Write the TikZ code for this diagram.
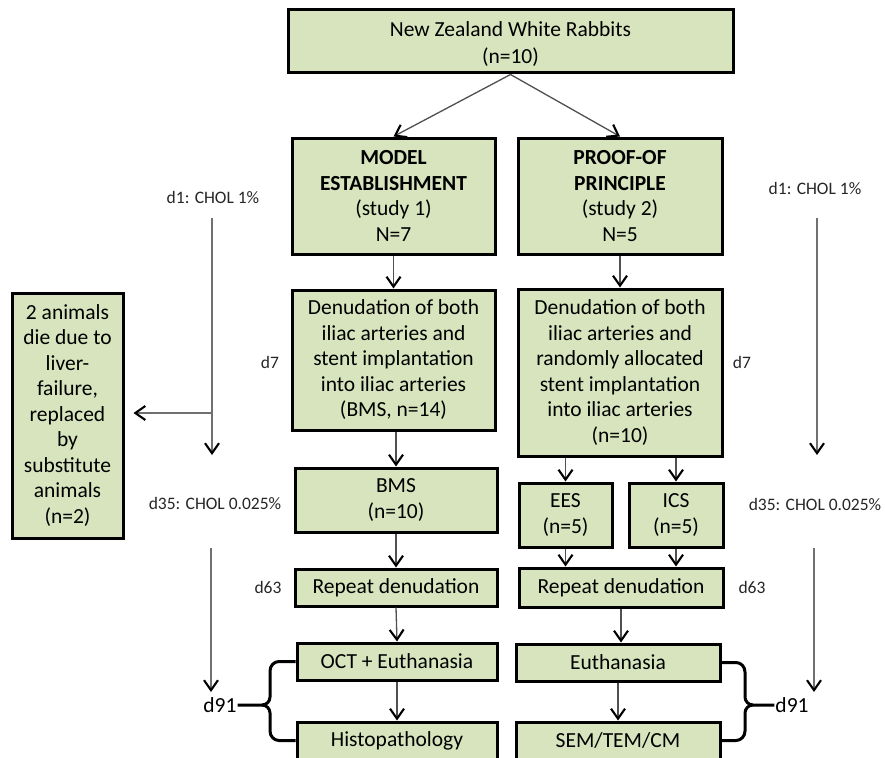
\documentclass[tikz,border=0pt]{standalone}
\usepackage{fontspec}
\setmainfont{Carlito}
\usetikzlibrary{arrows.meta,calc}
\definecolor{boxgreen}{HTML}{D7E4BD}
\definecolor{arrgray}{HTML}{505050}
\definecolor{tlgray}{HTML}{707070}
\begin{document}
\begin{tikzpicture}[x=1pt,y=-1pt,
  box/.style={draw=black, line width=3pt, fill=boxgreen, align=center, inner sep=2pt,
    font=\fontsize{21.5}{25.5}\selectfont},
  sz/.style 2 args={minimum width=#1pt, minimum height=#2pt},
  tip/.style={-{Straight Barb[length=10pt,width=14pt,line width=2.1pt,color=black]}},
  arr/.style={draw=arrgray, line width=1.3pt, tip},
  tl/.style={draw=tlgray, line width=1.3pt, tip},
  lab/.style={inner sep=1pt, text=black!85, font=\fontsize{17.5}{21}\selectfont},
  biglab/.style={inner sep=1pt, font=\fontsize{21.5}{25}\selectfont},
  brace/.style={draw=black, line width=3pt, line join=round}]
\useasboundingbox (0,0) rectangle (885,757);
\fill[white] (0,0) rectangle (885,757);
\begin{scope}
\clip (0,0) rectangle (885,757);
% boxes
\node[box, sz={445}{63}] (top) at (510.5,41.5) {\rule{0pt}{20pt}New Zealand White Rabbits\\[1.5pt](n=10)};
\node[box, sz={203}{116}] (model) at (393.5,196) {\textbf{MODEL}\\\textbf{ESTABLISHMENT}\\(study 1)\\N=7};
\node[box, sz={204}{116}] (proof) at (620,196) {\textbf{PROOF-OF}\\\textbf{PRINCIPLE}\\(study 2)\\N=5};
\node[box, sz={203}{140}] (den1) at (393.5,360) {Denudation of both\\iliac arteries and\\stent implantation\\into iliac arteries\\(BMS, n=14)};
\node[box, sz={204}{167}] (den2) at (620,372.5) {Denudation of both\\iliac arteries and\\randomly allocated\\stent implantation\\into iliac arteries\\(n=10)};
\node[box, sz={202}{64}] (bms) at (396,500) {BMS\\(n=10)};
\node[box, sz={93}{64}] (ees) at (565.5,515) {EES\\(n=5)};
\node[box, sz={94}{64}] (ics) at (676,515) {ICS\\(n=5)};
\node[box, sz={202}{37}] (rep1) at (396,587.5) {Repeat denudation};
\node[box, sz={204}{39}] (rep2) at (621,587.5) {Repeat denudation};
\node[box, sz={200}{37}] (oct) at (397,661.5) {OCT + Euthanasia};
\node[box, sz={204}{37}] (euth) at (618,662.5) {Euthanasia};
\node[box, sz={200}{37}] (histo) at (397,740.5) {Histopathology};
\node[box, sz={204}{37}] (sem) at (618,740.5) {SEM/TEM/CM};
\node[box, sz={111}{245}] (dead) at (67.5,415.5) {2 animals\\die due to\\liver-\\failure,\\replaced\\by\\substitute\\animals\\(n=2)};
% flow arrows
\draw[arr] (top.south) -- (model.north);
\draw[arr] (top.south) -- (proof.north);
\draw[arr] (model.south) -- (den1.north);
\draw[arr] (proof.south) -- (den2.north);
\draw[arr] (den1.south -| bms.north) -- (bms.north);
\draw[arr] (ees.north |- den2.south) -- (ees.north);
\draw[arr] (ics.north |- den2.south) -- (ics.north);
\draw[arr] (bms.south) -- (rep1.north);
\draw[arr] (ees.south) -- (ees.south |- rep2.north);
\draw[arr] (ics.south) -- (ics.south |- rep2.north);
\draw[arr] (rep1.south) -- (oct.north);
\draw[arr] (rep2.south) -- (rep2.south |- euth.north);
\draw[arr] (oct.south) -- (histo.north);
\draw[arr] (euth.south) -- (sem.north);
% labels
\node[lab] (d1L) at (213,197) {d1: CHOL 1\%};
\node[lab] (d35L) at (215,503) {d35: CHOL 0.025\%};
\node[lab] (d7L) at (270,362) {d7};
\node[lab] (d63L) at (268,587) {d63};
\node[biglab] (d91L) at (220,705) {d91};
\node[lab] (d1R) at (815,188) {d1: CHOL 1\%};
\node[lab] (d35R) at (815,504) {d35: CHOL 0.025\%};
\node[lab] (d7R) at (742,362) {d7};
\node[lab] (d63R) at (752,587) {d63};
\node[biglab] (d91R) at (792,705) {d91};
% timelines
\coordinate (l1a) at (212,218); \coordinate (l1b) at (212,455);
\coordinate (l2a) at (211,548); \coordinate (l2b) at (211,692);
\coordinate (r1a) at (817,218); \coordinate (r1b) at (817,455);
\coordinate (r2a) at (814,548); \coordinate (r2b) at (814,692);
\coordinate (br) at (212,413);
\draw[tl] (l1a) -- (l1b);
\draw[tl] (l2a) -- (l2b);
\draw[tl] (r1a) -- (r1b);
\draw[tl] (r2a) -- (r2b);
\draw[tl, shorten >=9pt] (br) -- (br -| dead.east);
% braces
\draw[brace] (oct.west) -- (279,661.5) to[out=180,in=90] (270,671) -- (270,697) to[out=-90,in=0] (262,705) -- (d91L.east);
\draw[brace] (histo.west) -- (279,740.5) to[out=180,in=-90] (270,731) -- (270,713) to[out=90,in=0] (262,705);
\draw[brace] (euth.east) -- (736,662.5) to[out=0,in=90] (745,672) -- (745,697) to[out=-90,in=180] (753,705) -- (d91R.west);
\draw[brace] (sem.east) -- (736,740.5) to[out=0,in=-90] (745,731) -- (745,713) to[out=90,in=180] (753,705);
\end{scope}
\end{tikzpicture}
\end{document}
